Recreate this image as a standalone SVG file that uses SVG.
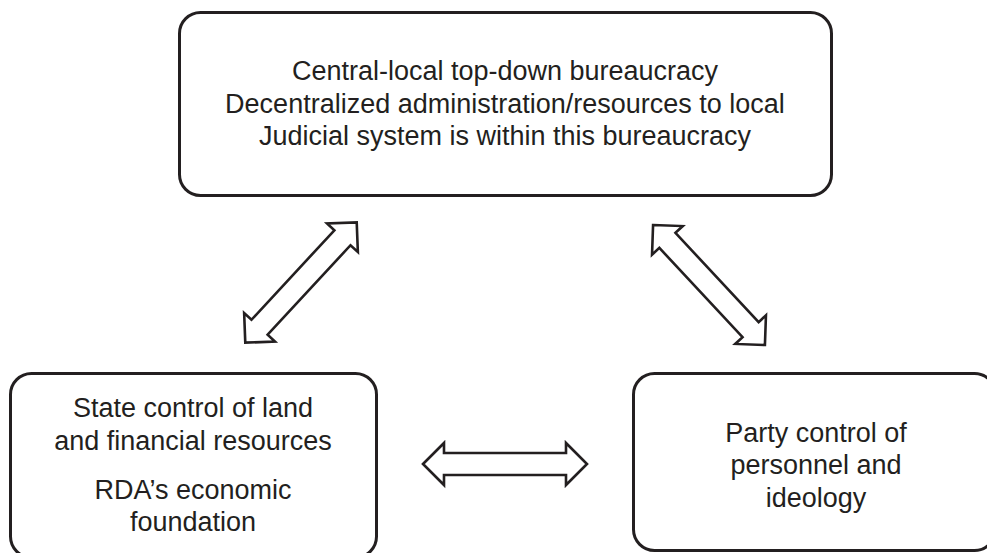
<svg xmlns="http://www.w3.org/2000/svg" width="987" height="553" viewBox="0 0 987 553">
<defs>
<style>
.box{fill:#fff;stroke:#231f20;stroke-width:3}
.t{font-family:"Liberation Sans",Arial,sans-serif;font-size:27px;fill:#231f20;text-anchor:middle}
.arr{fill:#fff;stroke:#231f20;stroke-width:2.6;stroke-linejoin:miter}
</style>
<path id="dbl" d="M -82,0 L -61,-21 L -61,-11 L 61,-11 L 61,-21 L 82,0 L 61,21 L 61,11 L -61,11 L -61,21 Z"/>
</defs>
<rect width="987" height="553" fill="#fff"/>
<g id="connectors" class="arr">
<use href="#dbl" transform="translate(301,282.5) rotate(-47.2)"/>
<use href="#dbl" transform="translate(709,285) rotate(47)"/>
<use href="#dbl" transform="translate(505,464)"/>
</g>
<g id="top">
<rect class="box" x="179.5" y="12.5" width="652" height="183" rx="21"/>
<text class="t" x="505" y="80">Central-local top-down bureaucracy</text>
<text class="t" x="505" y="113">Decentralized administration/resources to local</text>
<text class="t" x="505" y="145">Judicial system is within this bureaucracy</text>
</g>
<g id="left">
<rect class="box" x="10.5" y="373.5" width="366" height="184" rx="21"/>
<text class="t" x="193" y="417">State control of land</text>
<text class="t" x="193" y="450">and financial resources</text>
<text class="t" x="193" y="499">RDA’s economic</text>
<text class="t" x="193" y="531">foundation</text>
</g>
<g id="right">
<rect class="box" x="633.5" y="373.5" width="362" height="177" rx="21"/>
<text class="t" x="816" y="442">Party control of</text>
<text class="t" x="816" y="474">personnel and</text>
<text class="t" x="816" y="507">ideology</text>
</g>
</svg>
